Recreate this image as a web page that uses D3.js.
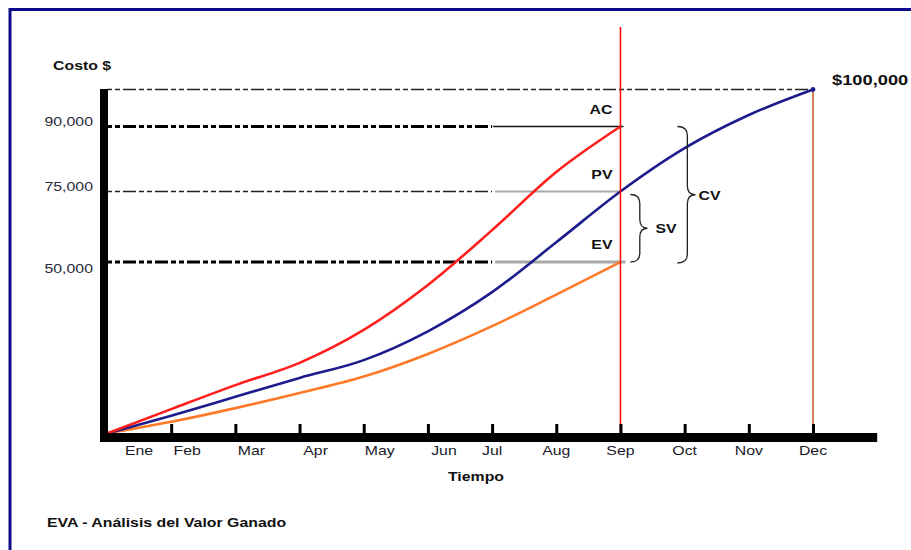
<!DOCTYPE html>
<html>
<head>
<meta charset="utf-8">
<script src="https://cdn.jsdelivr.net/npm/d3@7"></script>
<style>
  html, body { margin: 0; padding: 0; background: #fff; overflow: hidden; }
  svg { display: block; }
  text { font-family: "Liberation Sans", Arial, Helvetica, sans-serif; }
</style>
</head>
<body>
<svg id="chart" width="911" height="550"></svg>
<script>
// ---- data -------------------------------------------------------------
const months = ["Ene", "Feb", "Mar", "Apr", "May", "Jun", "Jul", "Aug", "Sep", "Oct", "Nov", "Dec"];
// Actual cost (AC), planned value (PV) and earned value (EV), cumulative $
const acValues = [0, 7100, 14100, 20600, 30200, 43300, 61300, 79500, 90000];
const pvValues = [0, 5200, 10700, 16200, 21400, 29800, 41200, 57000, 75000, 85000, 93100, 100000];
const evValues = [0, 3400, 7400, 11800, 16600, 23200, 31300, 40500, 50000];
const costTicks = [50000, 75000, 90000];
const budgetTotal = 100000;
const statusMonth = 8;   // index of the status date (Sep)

// ---- setup ------------------------------------------------------------
const svg = d3.select("#chart");
const SX = 1.22; // horizontal stretch applied to every label

const x = d3.scaleLinear().domain([0, 11]).range([107, 813]);
// schematic cost axis: piecewise scale through the marked values
const y = d3.scaleLinear()
  .domain([0, 50000, 75000, 90000, 100000])
  .range([433.5, 262, 191.5, 126.5, 89.5]);

function label(g, px, py, str, opt = {}) {
  const { size = 13, weight = "normal", anchor = "start", fill = "#111" } = opt;
  return g.append("text")
    .attr("transform", `translate(${px},${py}) scale(${SX},1)`)
    .attr("font-size", size)
    .attr("font-weight", weight)
    .attr("text-anchor", anchor)
    .attr("fill", fill)
    .text(str);
}

// frame
svg.append("rect")
  .attr("x", 10).attr("y", 9.5).attr("width", 1000).attr("height", 1000)
  .attr("fill", "none").attr("stroke", "#0b0b8c").attr("stroke-width", 3);

const g = svg.append("g");
const x0 = x(0), xStat = x(statusMonth), xMid = x(6);
const dash = "5,3,5,3,13,3";

// budget guide at 100,000
g.append("line")
  .attr("x1", x0).attr("x2", x(pvValues.length - 1))
  .attr("y1", y(budgetTotal)).attr("y2", y(budgetTotal))
  .attr("stroke", "#222").attr("stroke-width", 1.3).attr("stroke-dasharray", dash);

// AC guide (90,000)
const acEnd = acValues[acValues.length - 1];
g.append("line")
  .attr("x1", x0).attr("x2", xMid).attr("y1", y(acEnd)).attr("y2", y(acEnd))
  .attr("stroke", "#000").attr("stroke-width", 3).attr("stroke-dasharray", dash);
g.append("line")
  .attr("x1", xMid + 1).attr("x2", xStat + 3).attr("y1", y(acEnd)).attr("y2", y(acEnd))
  .attr("stroke", "#111").attr("stroke-width", 1.3);

// PV guide (75,000)
const pvStat = pvValues[statusMonth];
g.append("line")
  .attr("x1", x0).attr("x2", xMid).attr("y1", y(pvStat)).attr("y2", y(pvStat))
  .attr("stroke", "#222").attr("stroke-width", 1.3).attr("stroke-dasharray", dash);
g.append("line")
  .attr("x1", xMid + 3).attr("x2", xStat).attr("y1", y(pvStat)).attr("y2", y(pvStat))
  .attr("stroke", "#a8a8a8").attr("stroke-width", 2);

// EV guide (50,000)
const evEnd = evValues[evValues.length - 1];
g.append("line")
  .attr("x1", x0).attr("x2", xMid).attr("y1", y(evEnd)).attr("y2", y(evEnd))
  .attr("stroke", "#000").attr("stroke-width", 3).attr("stroke-dasharray", dash);
g.append("line")
  .attr("x1", xMid + 3).attr("x2", xStat + 5).attr("y1", y(evEnd)).attr("y2", y(evEnd))
  .attr("stroke", "#a8a8a8").attr("stroke-width", 3);

// curves
const line = d3.line().x((d, i) => x(i)).y(d => y(d)).curve(d3.curveMonotoneX);
const series = [
  { values: evValues, color: "#ff7a28" },
  { values: pvValues, color: "#1c1c8c" },
  { values: acValues, color: "#ff1e1e" }
];
g.selectAll("path.curve").data(series).join("path")
  .attr("class", "curve")
  .attr("d", d => line(d.values))
  .attr("fill", "none")
  .attr("stroke", d => d.color)
  .attr("stroke-width", 2.6)
  .attr("stroke-linejoin", "round");

// status date and end-of-project markers
g.append("line")
  .attr("x1", xStat).attr("x2", xStat).attr("y1", 27).attr("y2", y(0))
  .attr("stroke", "#ff0000").attr("stroke-width", 1.5);
g.append("line")
  .attr("x1", x(11)).attr("x2", x(11)).attr("y1", y(budgetTotal)).attr("y2", y(0))
  .attr("stroke", "#c4622e").attr("stroke-width", 1.6);
g.append("circle")
  .attr("cx", x(11)).attr("cy", y(budgetTotal)).attr("r", 2.4).attr("fill", "#1c1c8c");

// curly braces for SV and CV
function brace(xl, xt, yTop, yBot) {
  const xs = xl + (xt - xl) * 0.55;
  const ym = (yTop + yBot) / 2;
  const r = Math.min(9, (yBot - yTop) / 4);
  return `M${xl},${yTop} Q${xs},${yTop} ${xs},${yTop + r} L${xs},${ym - r} ` +
         `Q${xs},${ym} ${xt},${ym} Q${xs},${ym} ${xs},${ym + r} ` +
         `L${xs},${yBot - r} Q${xs},${yBot} ${xl},${yBot}`;
}
const svTop = y(pvStat) + 3, svBot = y(evEnd);
const cvTop = y(acEnd), cvBot = y(evEnd) + 1;
g.append("path").attr("d", brace(xStat + 10, xStat + 27, svTop, svBot))
  .attr("fill", "none").attr("stroke", "#222").attr("stroke-width", 1.3);
g.append("path").attr("d", brace(xStat + 57, xStat + 75, cvTop, cvBot))
  .attr("fill", "none").attr("stroke", "#222").attr("stroke-width", 1.3);
label(g, xStat + 35, (svTop + svBot) / 2 + 5, "SV", { weight: "bold" });
label(g, xStat + 78, (cvTop + cvBot) / 2 + 5, "CV", { weight: "bold" });

// AC / PV / EV tags at the status date
[["AC", acEnd], ["PV", pvStat], ["EV", evEnd]].forEach(([t, v]) => {
  label(g, xStat - 8, y(v) - 13, t, { weight: "bold", anchor: "end" });
});

// axes: thick bands with short upward month ticks
g.append("rect")
  .attr("x", 100).attr("y", y(budgetTotal) - 0.5)
  .attr("width", 8).attr("height", 442 - y(budgetTotal) + 0.5)
  .attr("fill", "#000");
g.append("rect")
  .attr("x", 100).attr("y", 433).attr("width", x(12) - 100).attr("height", 9)
  .attr("fill", "#000");
const xAxis = g.append("g").attr("transform", `translate(0,${433})`)
  .call(d3.axisTop(x).tickValues(d3.range(1, 12)).tickSize(9).tickFormat(""));
xAxis.select(".domain").remove();
xAxis.selectAll(".tick line").attr("stroke", "#000").attr("stroke-width", 3);

// month labels (first half sits a little right of each tick)
months.forEach((m, i) => {
  const px = i === 0 ? x(0.5) : i < 6 ? x(i + 0.25) : x(i);
  label(g, px, 455, m, { anchor: "middle", fill: "#1a1a2a" });
});

// cost labels
const fmt = d3.format(",");
costTicks.forEach(v => {
  const off = v > 60000 ? -6 : 6;
  label(g, 93, y(v) + off + 5, fmt(v), { anchor: "end", fill: "#2a2a3a" });
});

label(g, 53, 70, "Costo $", { weight: "bold" });
label(g, 476, 481, "Tiempo", { weight: "bold", anchor: "middle" });
label(g, 832, 85, "$" + fmt(budgetTotal), { weight: "bold", size: 15 });
label(g, 47, 527, "EVA - Análisis del Valor Ganado", { weight: "bold" });
</script>
</body>
</html>
